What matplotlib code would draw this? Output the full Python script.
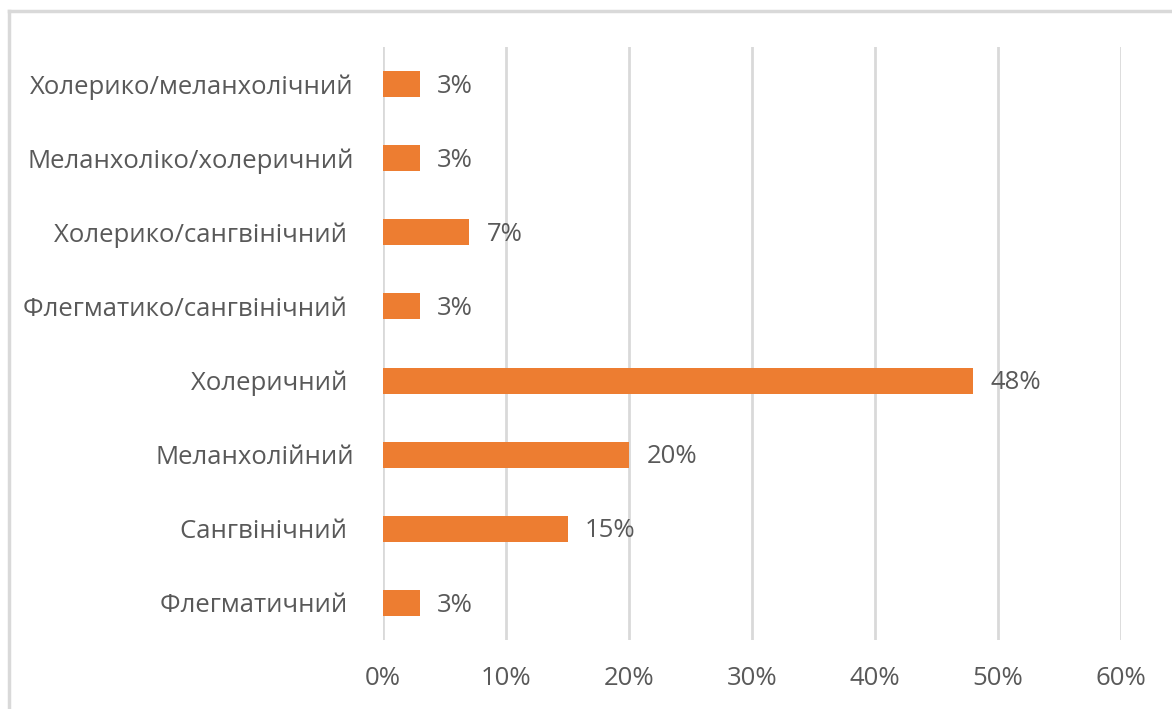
import matplotlib
matplotlib.use("Agg")
import matplotlib.pyplot as plt
from matplotlib.lines import Line2D
from matplotlib.ticker import FuncFormatter

plt.rcParams['font.family'] = ['Open Sans', 'DejaVu Sans']

categories = [
    "Холерико/меланхолічний",
    "Меланхоліко/холеричний",
    "Холерико/сангвінічний ",
    "Флегматико/сангвінічний ",
    "Холеричний ",
    "Меланхолійний",
    "Сангвінічний ",
    "Флегматичний ",
]
values = [3, 3, 7, 3, 48, 20, 15, 3]
x_ticks = [0, 10, 20, 30, 40, 50, 60]

bar_color = "#ED7D31"
text_color = "#595959"
grid_color = "#D9D9D9"
font_size = 18.5

fig = plt.figure(figsize=(11.72, 7.09), dpi=100)
ax = fig.add_axes([383 / 1172, 69 / 709, 738 / 1172, 593 / 709])

n = len(categories)
ypos = list(range(n))[::-1]
ax.barh(ypos, values, height=0.35, color=bar_color, zorder=3)

for y, v in zip(ypos, values):
    ax.annotate(f"{v}%", xy=(v, y), xytext=(12.5, -1.5), textcoords="offset points",
                va="center", ha="left", fontsize=font_size, color=text_color)

ax.set_xlim(0, 60)
ax.set_ylim(-0.5, n - 0.5)
ax.set_xticks(x_ticks)
ax.xaxis.set_major_formatter(FuncFormatter(lambda v, p: f"{int(v)}%"))
ax.set_yticks(ypos)
ax.set_yticklabels(categories)

ax.tick_params(axis="x", length=0, pad=18.5, labelsize=font_size, labelcolor=text_color)
ax.tick_params(axis="y", length=0, pad=21, labelsize=font_size, labelcolor=text_color)

ax.grid(axis="x", color=grid_color, linewidth=2, zorder=0)
for s in ax.spines.values():
    s.set_visible(False)

# chart frame: top and left edges
fig.add_artist(Line2D([8.5 / 1172, 8.5 / 1172], [0, 1 - 10.5 / 709],
                      transform=fig.transFigure, color="#D9D9D9", linewidth=2.5))
fig.add_artist(Line2D([8.5 / 1172, 1], [1 - 10.5 / 709, 1 - 10.5 / 709],
                      transform=fig.transFigure, color="#D9D9D9", linewidth=2.5))

fig.savefig("out.png", dpi=100, facecolor="white")
